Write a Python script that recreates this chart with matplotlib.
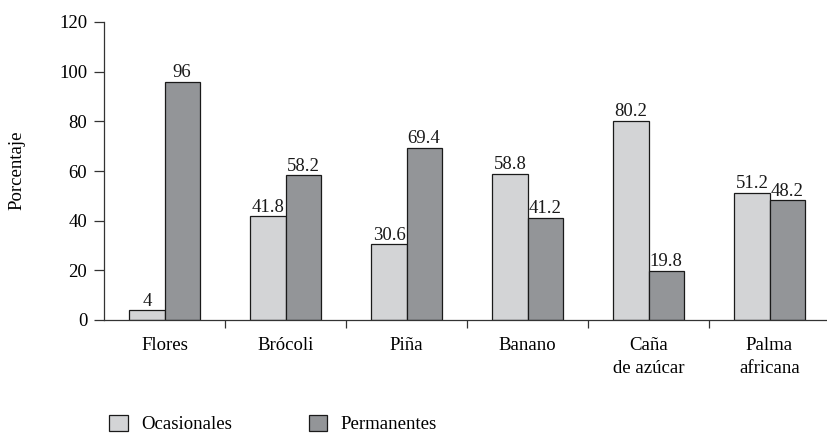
import matplotlib
matplotlib.use("Agg")
import matplotlib.pyplot as plt
import numpy as np
from matplotlib.patches import Patch

categories = ["Flores", "Brócoli", "Piña", "Banano", "Caña\nde azúcar", "Palma\nafricana"]
ocasionales = [4, 41.8, 30.6, 58.8, 80.2, 51.2]
permanentes = [96, 58.2, 69.4, 41.2, 19.8, 48.2]
oc_labels = ["4", "41.8", "30.6", "58.8", "80.2", "51.2"]
pe_labels = ["96", "58.2", "69.4", "41.2", "19.8", "48.2"]
yticks = [0, 20, 40, 60, 80, 100, 120]

plt.rcParams['font.family'] = ['Liberation Serif', 'DejaVu Serif']
FS = 13.5

fig = plt.figure(figsize=(8.27, 4.34), dpi=100)
ax = fig.add_axes([104/827, 114/434, 726/827, 298/434])

x = np.arange(len(categories))
w = 0.29
light = "#d3d4d6"
dark = "#939598"
b1 = ax.bar(x - w/2, ocasionales, w, color=light, edgecolor="#1a1a1a", linewidth=0.9)
b2 = ax.bar(x + w/2, permanentes, w, color=dark, edgecolor="#1a1a1a", linewidth=0.9)

for rect, lab in zip(b1, oc_labels):
    ax.text(rect.get_x() + rect.get_width()/2, rect.get_height() + 0.2, lab,
            ha="center", va="bottom", fontsize=FS, color="#1a1a1a")
for rect, lab in zip(b2, pe_labels):
    ax.text(rect.get_x() + rect.get_width()/2, rect.get_height() + 0.2, lab,
            ha="center", va="bottom", fontsize=FS, color="#1a1a1a")

ax.set_xlim(-0.5, 5.5)
ax.set_ylim(0, 120)
ax.set_yticks(yticks)
ax.set_yticklabels([str(t) for t in yticks], fontsize=FS)
ax.set_xticks(x)
ax.set_xticklabels(categories, fontsize=FS, linespacing=1.5)
ax.tick_params(axis="x", which="major", length=0, pad=12)
ax.set_xticks(np.arange(0.5, 5.5, 1.0), minor=True)
ax.tick_params(axis="x", which="minor", length=6, width=0.9, direction="out", color="#333333")
ax.tick_params(axis="y", length=7, width=0.9, direction="out", color="#333333", pad=5)

for s in ["top", "right"]:
    ax.spines[s].set_visible(False)
ax.spines["left"].set_linewidth(0.9)
ax.spines["bottom"].set_linewidth(0.9)
ax.spines["left"].set_color("#333333")
ax.spines["bottom"].set_color("#333333")

fig.text(17/827, 1 - 170/434, "Porcentaje", rotation=90, ha="center", va="center", fontsize=FS)

handles = [Patch(facecolor=light, edgecolor="#1a1a1a", linewidth=0.9, label="Ocasionales"),
           Patch(facecolor=dark, edgecolor="#1a1a1a", linewidth=0.9, label="Permanentes")]
fig.legend(handles=handles, loc="center left", bbox_to_anchor=(109/827, 1 - 424/434),
           ncol=2, frameon=False, fontsize=FS, handlelength=1.0, handleheight=1.0,
           handletextpad=0.7, columnspacing=4.1, borderpad=0.0, borderaxespad=0.0)

fig.savefig("out.png", dpi=100)
